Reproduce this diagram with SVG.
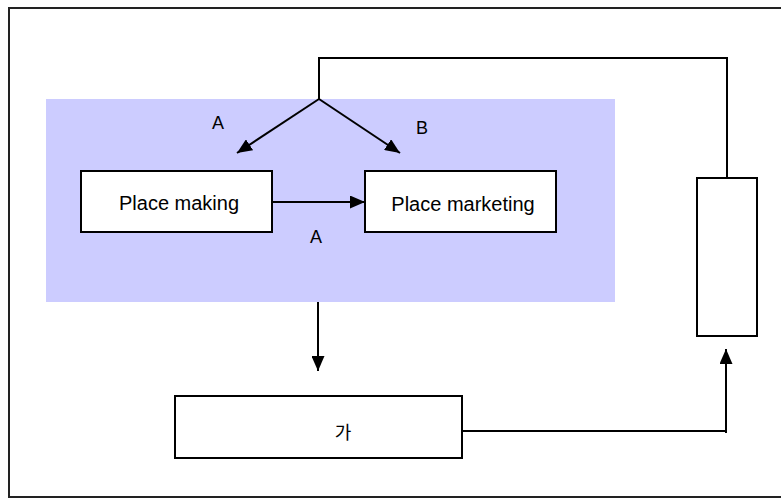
<svg xmlns="http://www.w3.org/2000/svg" width="781" height="498" viewBox="0 0 781 498">
  <style>
    .box { fill: #ffffff; stroke: #000000; stroke-width: 2; }
    .conn { fill: none; stroke: #000000; stroke-width: 2; }
    .t { font-family: "Liberation Sans", Arial, sans-serif; fill: #000000; }
    .k { font-family: "Liberation Sans", "Noto Sans CJK KR", sans-serif; fill: #000000; }
  </style>
  <defs>
    <marker id="arr" viewBox="0 0 15 13" refX="15" refY="6.5" markerWidth="15" markerHeight="13" markerUnits="userSpaceOnUse" orient="auto">
      <path d="M0,0 L15,6.5 L0,13 Z" fill="#000000"/>
    </marker>
  </defs>
  <rect x="0" y="0" width="781" height="498" fill="#ffffff"/>
  <g id="frame">
    <rect x="9" y="8" width="790" height="489" fill="none" stroke="#222222" stroke-width="2"/>
  </g>
  <g id="panel">
    <rect x="46" y="99" width="569" height="203" fill="#ccccff"/>
  </g>
  <g id="connectors">
    <path class="conn" d="M319,99 V58 H727 V177"/>
    <line class="conn" x1="319" y1="99" x2="237" y2="153" marker-end="url(#arr)"/>
    <line class="conn" x1="319" y1="99" x2="400" y2="153" marker-end="url(#arr)"/>
    <line class="conn" x1="272" y1="202" x2="365" y2="202" marker-end="url(#arr)"/>
    <line class="conn" x1="318" y1="302" x2="318" y2="371" marker-end="url(#arr)"/>
    <path class="conn" d="M462,431 H725"/>
    <line class="conn" x1="726" y1="433" x2="726" y2="349" marker-end="url(#arr)"/>
  </g>
  <g id="place-making">
    <rect class="box" x="81" y="171" width="191" height="61"/>
    <text class="t" x="179" y="210" font-size="20" text-anchor="middle">Place making</text>
  </g>
  <g id="place-marketing">
    <rect class="box" x="365" y="171" width="191" height="61"/>
    <text class="t" x="463" y="211" font-size="20" text-anchor="middle">Place marketing</text>
  </g>
  <g id="ga">
    <rect class="box" x="175" y="396" width="287" height="62"/>
    <text class="k" x="343" y="439" font-size="18" text-anchor="middle">가</text>
  </g>
  <g id="side-box">
    <rect class="box" x="697" y="178" width="60" height="158"/>
  </g>
  <g id="labels">
    <text class="t" x="218" y="129" font-size="18" text-anchor="middle">A</text>
    <text class="t" x="422" y="134" font-size="18" text-anchor="middle">B</text>
    <text class="t" x="316" y="243" font-size="18" text-anchor="middle">A</text>
  </g>
</svg>
